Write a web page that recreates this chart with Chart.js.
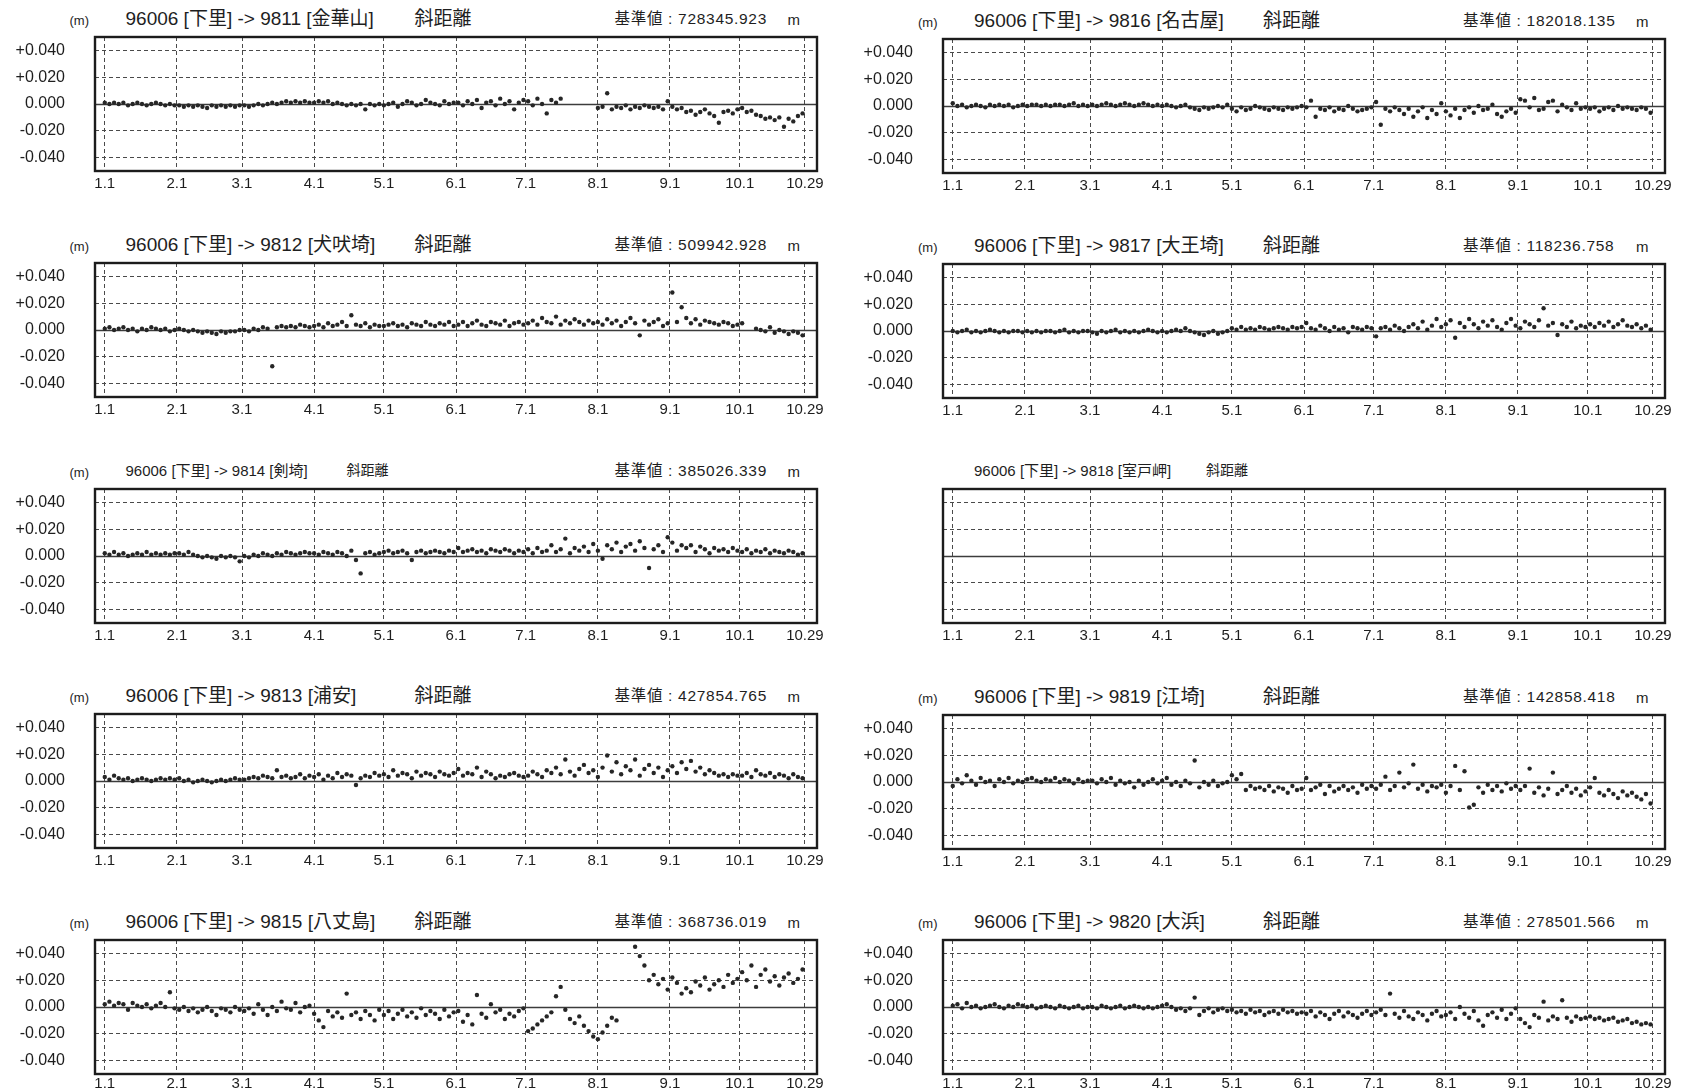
<!DOCTYPE html>
<html><head><meta charset="utf-8">
<script src="https://cdn.jsdelivr.net/npm/chart.js@4/dist/chart.umd.min.js"></script>
<style>
html,body{margin:0;padding:0;background:#fff;width:1684px;height:1091px;overflow:hidden;font-family:"Liberation Sans",Arial,"Noto Sans CJK JP",sans-serif;color:#1e1e1e}
.t{position:absolute;white-space:nowrap;line-height:1}
canvas{position:absolute}
</style></head><body>
<script>
// day-of-year of each observation (Jan 1 = 0), sampled every second day
const dayNumbers = [
0,2,4,6,8,10,12,14,16,18,20,22,24,26,28,30,
32,34,36,38,40,42,44,46,48,50,52,54,56,58,
60,62,64,66,68,70,72,74,76,78,80,82,84,86,88,
90,92,94,96,98,100,102,104,106,108,110,112,114,116,118,
120,122,124,126,128,130,132,134,136,138,140,142,144,146,148,150,
152,154,156,158,160,162,164,166,168,170,172,174,176,178,180,
182,184,186,188,190,192,194,196,198,200,202,204,206,208,210,
212,214,216,218,220,222,224,226,228,230,232,234,236,238,240,242,
244,246,248,250,252,254,256,258,260,262,264,266,268,270,272,
274,276,278,280,282,284,286,288,290,292,294,296,298,300];
const tickDays = [0,31,59,90,120,151,181,212,243,273,301];
const tickLabels = ['1.1','2.1','3.1','4.1','5.1','6.1','7.1','8.1','9.1','10.1','10.29'];
const yTickValues = [-40,-20,0,20,40]; // mm

// slant-distance residuals (mm) relative to reference value
const s9811 = [
1,0,1,0,1,-1,0,1,0,-1,0,1,0,-1,0,-1,
-1,-2,-1,-2,-1,-2,-3,-1,-2,-1,-2,-1,-2,-1,
-1,-2,-1,0,-1,0,1,0,1,2,1,2,1,2,1,
1,2,1,2,0,1,0,-1,0,-1,0,-4,0,-1,0,
-1,0,1,-2,0,2,1,-1,0,3,1,0,-1,2,0,1,
1,-1,2,0,3,-3,1,2,-1,4,0,2,-4,1,3,
2,-1,4,0,-7,3,1,4,null,null,null,null,null,null,null,
-3,-2,8,-4,-2,-3,-1,-4,-2,-3,-1,-2,-3,-2,-4,2,
-2,-4,-3,-6,-5,-8,-6,-4,-7,-9,-14,-6,-5,-7,-4,
-3,-6,-5,-8,-9,-11,-10,-12,-10,-17,-11,-13,-9,-7];
const s9816 = [
2,0,1,-1,0,1,0,-1,1,0,1,0,1,-1,0,1,
0,1,1,0,1,0,1,1,0,1,2,0,1,0,
1,0,1,2,1,0,1,2,1,0,1,2,1,0,1,
0,1,0,-1,0,1,-1,-2,-3,-1,-2,-1,0,-1,1,
-2,-4,-1,-3,-2,0,-1,-2,-3,-1,-2,-3,-1,-2,-1,0,
-1,4,-8,-2,-3,-1,-4,-2,-3,0,-2,-4,-3,-2,-1,
3,-14,-2,-4,-1,-3,-6,-2,-8,-4,-1,-9,-3,-6,2,
-4,-7,-2,-9,-3,-1,-5,0,-3,-2,1,-6,-8,-4,-2,-5,
5,4,-1,6,-3,-2,3,4,-4,1,-1,-3,2,-2,-1,
-2,-1,-4,-2,-1,-3,0,-2,-1,-2,-3,-1,-2,-5];
const s9812 = [
1,2,0,1,2,0,1,-1,1,0,2,1,0,1,-1,0,
1,0,-1,0,-1,-2,-1,-2,-3,-1,-2,-1,-1,0,
0,-1,1,0,2,1,-27,2,3,2,3,2,4,3,2,
3,4,2,5,3,4,6,3,11,4,3,5,2,4,3,
3,4,5,3,4,2,5,4,3,6,4,3,5,4,6,3,
4,6,3,5,7,4,3,6,5,4,7,3,5,6,4,
5,7,4,9,6,5,10,4,7,5,8,6,4,7,5,
6,4,8,5,7,3,6,9,5,-4,7,4,6,8,3,5,
28,6,17,9,5,8,4,7,6,5,4,6,5,3,4,
5,null,null,1,0,-1,2,-2,0,-1,-3,-1,-2,-4];
const s9817 = [
0,-1,0,1,-1,0,-1,0,1,0,-1,0,-1,0,0,-1,
0,-1,0,-1,0,0,-1,0,1,-1,0,-1,0,0,
-1,-2,0,-1,0,1,-1,0,-1,0,-1,0,1,0,-1,
0,-1,0,1,0,2,0,-1,-2,-3,-1,0,-2,-1,0,
2,1,3,1,2,1,3,2,1,2,3,2,1,3,2,3,
6,2,1,4,2,0,3,1,2,-1,3,2,1,3,2,
-4,2,3,1,4,2,0,3,5,2,7,1,4,9,3,
5,8,-5,6,3,9,5,2,7,4,8,3,1,6,9,4,
2,7,5,3,8,17,4,6,-3,5,3,7,2,4,3,
5,3,6,4,7,3,5,8,4,3,5,2,4,1];
const s9814 = [
2,1,3,1,2,0,1,2,1,3,1,2,1,2,1,2,
2,1,3,1,0,-1,0,-1,-2,0,-1,0,-1,-4,
0,-1,1,0,2,1,0,2,1,3,2,1,2,3,2,
2,1,3,2,1,3,2,0,4,-3,-13,2,3,1,2,
3,4,2,3,4,2,-3,3,4,2,3,4,3,2,4,3,
6,3,4,5,3,4,2,5,4,3,5,4,2,4,3,
5,2,6,3,4,8,3,5,13,2,6,4,7,3,9,
4,-2,8,5,10,3,7,9,4,11,6,-9,5,8,3,14,
10,4,8,6,8,3,7,5,2,6,4,5,3,6,4,
3,5,2,4,3,5,2,4,3,2,4,3,1,2];
const s9818 = []; // no observations
const s9813 = [
3,1,4,2,1,2,0,1,2,1,0,1,2,1,2,1,
2,0,1,-1,0,1,0,-1,0,1,0,1,2,1,
1,2,3,2,4,3,2,8,3,4,2,3,5,2,4,
3,5,1,4,2,6,3,5,4,-3,2,4,3,6,4,
5,3,8,4,6,5,2,7,4,6,5,3,7,5,4,6,
9,4,6,5,10,3,7,5,2,4,3,5,6,4,3,
4,7,5,3,8,6,10,5,16,7,4,9,12,6,8,
3,10,19,7,14,5,11,8,16,4,9,12,6,10,3,8,
11,6,14,9,15,7,10,5,8,6,4,5,3,5,4,
4,6,3,8,5,4,6,3,5,4,2,5,3,2];
const s9819 = [
-3,2,-1,5,1,-2,3,0,1,-3,2,0,3,-1,1,0,
2,3,1,0,2,1,3,0,2,1,-1,2,0,1,
1,-1,2,0,3,-2,1,-1,0,-4,1,-2,0,2,-1,
1,3,-2,0,-3,1,-1,16,-4,0,-2,1,-3,-1,0,
5,2,6,-6,-3,-5,-4,-6,-3,-7,-4,-5,-8,-3,-6,-5,
3,-6,-4,-2,-9,-3,-7,-5,-3,-6,-4,-8,-2,-5,-3,
-5,-2,4,-6,-3,7,-4,-1,13,-5,-2,-7,-3,-4,-2,
-8,-3,12,-6,8,-19,-17,-4,-8,-2,-6,-3,-7,-1,-5,-3,
-6,-3,10,-8,-4,-10,-5,7,-9,-6,-3,-8,-5,-10,-7,
-4,3,-8,-10,-6,-9,-12,-7,-10,-8,-11,-13,-9,-16];
const s9815 = [
2,4,1,3,2,-2,3,1,0,2,-1,1,3,0,11,-1,
-2,0,-3,-1,-4,-2,0,-3,-6,-1,-2,-4,0,-2,
-3,-1,-5,2,-2,-6,0,-3,4,-1,-2,3,-4,0,1,
-5,-10,-15,-3,-7,-4,-8,10,-6,-4,-9,-3,-6,-10,-2,
-6,-3,-9,-5,-2,-7,-4,-8,-1,-6,-3,-5,-9,-2,-7,-4,
-3,-11,-6,-13,9,-5,-8,2,-4,-2,-9,-5,-7,-3,-1,
-18,-16,-13,-10,-7,-4,8,15,-2,-9,-12,-7,-14,-18,-22,
-24,-19,-14,-8,-10,null,null,null,45,38,31,20,24,17,21,13,
22,18,10,14,11,19,16,22,13,17,20,15,24,18,21,
26,20,31,15,24,28,19,23,16,22,25,18,21,28];
const s9820 = [
1,2,-1,3,0,1,-1,0,1,2,0,-1,1,0,2,1,
0,1,-1,0,1,0,-1,1,0,-1,0,1,-1,0,
0,-1,1,0,-1,0,1,-1,0,1,0,-1,0,-1,0,
1,2,0,-2,-1,-3,-1,7,-6,-3,-1,-4,-2,-1,-3,
-2,-4,-3,-5,-2,-4,-3,-6,-4,-3,-5,-2,-4,-3,-5,-4,
-5,-3,-7,-4,-6,-9,-5,-3,-7,-4,-6,-8,-5,-3,-6,
-4,-2,-6,10,-5,-8,-3,-7,-9,-4,-6,-10,-5,-3,-7,
-6,-4,-9,0,-5,-8,-3,-10,-14,-6,-4,-8,-2,-9,-5,-1,
-9,-12,-15,-6,-8,4,-10,-7,-9,5,-8,-11,-7,-9,-8,
-7,-9,-8,-10,-9,-8,-11,-10,-9,-12,-11,-13,-12,-13];

const stationCodes = ['9811','9816','9812','9817','9814','9818','9813','9819','9815','9820'];
const stationNames = ['金華山','名古屋','犬吠埼','大王埼','剣埼','室戸岬','浦安','江埼','八丈島','大浜'];
const baseValues = ['728345.923','182018.135','509942.928','118236.758','385026.339',null,'427854.765','142858.418','368736.019','278501.566'];
const seriesList = [s9811,s9816,s9812,s9817,s9814,s9818,s9813,s9819,s9815,s9820];

// layout (pixels)
const colLeft = [94.5, 943];
const rowTop = [[37,263,489,714,940],[39,264,489,715,940]];
const BOX_W = 722, BOX_H = 134, AX_W = 95, PAD_T = 6, PAD_R = 6, XAX_H = 26;

Chart.defaults.font.family = '"Liberation Sans", Arial, sans-serif';

const framePlugin = {
  id: 'frame',
  beforeDatasetsDraw(chart) {
    const {ctx, chartArea: a, scales: {y}} = chart;
    const yy = Math.round(y.getPixelForValue(0)) + 0.5;
    ctx.save();
    ctx.strokeStyle = '#3c3c3c'; ctx.lineWidth = 1.6;
    ctx.beginPath(); ctx.moveTo(a.left, yy); ctx.lineTo(a.right, yy); ctx.stroke();
    ctx.restore();
  },
  afterDraw(chart) {
    const {ctx, chartArea: a} = chart;
    ctx.save();
    ctx.strokeStyle = '#1c1c1c'; ctx.lineWidth = 2.4;
    ctx.strokeRect(a.left, a.top, a.right - a.left, a.bottom - a.top);
    ctx.restore();
  }
};

function addText(txt, left, centerY, size, extra) {
  const d = document.createElement('div');
  d.className = 't';
  d.textContent = txt;
  d.style.left = left + 'px';
  d.style.top = (centerY - size / 2) + 'px';
  d.style.fontSize = size + 'px';
  if (extra) Object.assign(d.style, extra);
  document.body.appendChild(d);
}

seriesList.forEach((vals, k) => {
  const row = Math.floor(k / 2), col = k % 2;
  const bl = colLeft[col], bt = rowTop[col][row];
  const small = (row === 2);
  const hasBase = baseValues[k] !== null;

  // header texts
  if (hasBase) addText('(m)', bl - 25, bt - 17, 13);
  addText('96006 [下里] -> ' + stationCodes[k] + ' [' + stationNames[k] + ']', bl + 31, bt - 19, small ? 15 : 19);
  addText('斜距離', bl + (small ? (col ? 263 : 252) : 320), bt - 19, small ? 14 : 19);
  if (hasBase) {
    addText('基準値 : ' + baseValues[k], bl + 520, bt - 18, 15.5, {letterSpacing: '0.7px'});
    addText('m', bl + 693, bt - 18, 15);
  }

  const cv = document.createElement('canvas');
  const W = AX_W + BOX_W + PAD_R, H = PAD_T + BOX_H + XAX_H;
  cv.width = W; cv.height = H;
  cv.style.width = W + 'px'; cv.style.height = H + 'px';
  cv.style.left = (bl - AX_W) + 'px';
  cv.style.top = (bt - PAD_T) + 'px';
  document.body.appendChild(cv);

  const pts = [];
  vals.forEach((v, i) => { if (v !== null) pts.push({x: dayNumbers[i], y: v}); });

  new Chart(cv, {
    type: 'scatter',
    data: {datasets: [{data: pts, pointRadius: 2.2, pointHoverRadius: 2.2,
      pointBackgroundColor: '#262626', pointBorderWidth: 0, showLine: false}]},
    options: {
      responsive: false, animation: false, devicePixelRatio: 1,
      layout: {padding: {top: PAD_T, right: PAD_R, left: 0, bottom: 0}, autoPadding: false},
      plugins: {legend: {display: false}, tooltip: {enabled: false}},
      events: [],
      scales: {
        x: {
          type: 'linear', min: -4.2, max: 306.2,
          afterBuildTicks(s) { s.ticks = tickDays.map(v => ({value: v})); },
          afterFit(s) { s.height = XAX_H; s.paddingLeft = 0; s.paddingRight = 0; s.paddingTop = 0; s.paddingBottom = 0; },
          ticks: {callback: (v, i) => tickLabels[i], font: {size: 15}, color: '#1e1e1e',
                  padding: row === 4 ? 1 : 4, maxRotation: 0, autoSkip: false},
          grid: {color: '#4a4a4a', lineWidth: 1, drawTicks: false},
          border: {display: false, dash: [4, 3]}
        },
        y: {
          min: -50, max: 50,
          afterBuildTicks(s) { s.ticks = yTickValues.map(v => ({value: v})); },
          afterFit(s) { s.width = AX_W; s.paddingTop = 0; s.paddingBottom = 0; s.paddingLeft = 0; s.paddingRight = 0; },
          ticks: {display: hasBase, font: {size: 16}, color: '#1e1e1e', padding: 30,
                  callback: v => (v > 0 ? '+' : '') + (v / 1000).toFixed(3)},
          grid: {color: '#4a4a4a', lineWidth: 1, drawTicks: false},
          border: {display: false, dash: [4, 3]}
        }
      }
    },
    plugins: [framePlugin]
  });
});
</script>
</body></html>
